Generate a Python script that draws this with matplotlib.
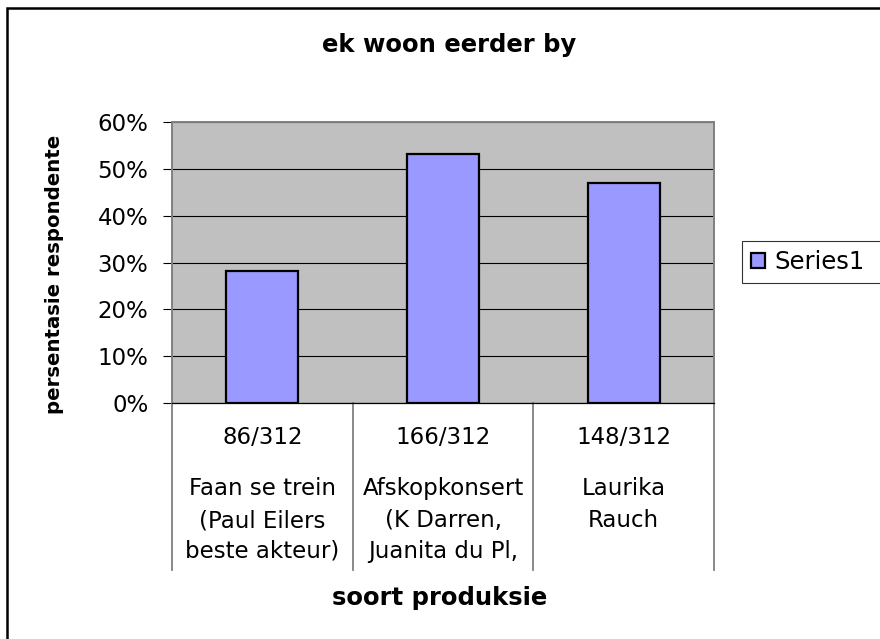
import matplotlib
matplotlib.use("Agg")
import matplotlib.pyplot as plt
import matplotlib.transforms as mtransforms
from matplotlib.patches import Rectangle
from matplotlib.lines import Line2D
import numpy as np

# ---- data ----
categories = ["Faan se trein\n(Paul Eilers\nbeste akteur)",
              "Afskopkonsert\n(K Darren,\nJuanita du Pl,",
              "Laurika\nRauch"]
counts = ["86/312", "166/312", "148/312"]
values = [0.282, 0.532, 0.469]
yticks = [0.0, 0.1, 0.2, 0.3, 0.4, 0.5, 0.6]
ytick_labels = ["0%", "10%", "20%", "30%", "40%", "50%", "60%"]
series_name = "Series1"
title = "ek woon eerder by"
xlabel = "soort produksie"
ylabel = "persentasie respondente"

plt.rcParams['font.family'] = ['DejaVu Sans']

W, H = 880, 639
fig = plt.figure(figsize=(W / 100, H / 100), dpi=100)
fig.patch.set_facecolor("white")

def fx(px):
    return px / W

def fy(py):
    return 1 - py / H

ax_l, ax_r, ax_t, ax_b = 172, 714, 122, 403
ax = fig.add_axes([fx(ax_l), fy(ax_b), fx(ax_r - ax_l), (ax_b - ax_t) / H])
ax.set_facecolor("#C0C0C0")

x = np.arange(len(categories))
bars = ax.bar(x, values, width=0.4, color="#9999FF", edgecolor="black",
              linewidth=1.6, label=series_name, zorder=3)

ax.set_xlim(-0.5, len(categories) - 0.5)
ax.set_ylim(0, 0.6)
ax.set_yticks(yticks)
ax.set_yticklabels(ytick_labels, fontsize=16.5)
ax.tick_params(axis="y", direction="out", length=6.5, width=0.8, color="black",
               pad=10.5)
ax.set_xticks([])
ax.yaxis.grid(True, color="black", linewidth=0.8)
ax.set_axisbelow(True)
for side in ["left", "top", "right"]:
    ax.spines[side].set_color("#808080")
    ax.spines[side].set_linewidth(1.4)
ax.spines["bottom"].set_color("black")
ax.spines["bottom"].set_linewidth(0.9)

# category separators below the axis (table-like x axis)
blend = mtransforms.blended_transform_factory(ax.transData, fig.transFigure)
sep_bottom = fy(570)
for b in np.arange(len(categories) + 1) - 0.5:
    ax.add_line(Line2D([b, b], [fy(ax_b), sep_bottom], transform=blend,
                       color="#808080", linewidth=1.3, clip_on=False))

# category labels: counts and names
name_baselines = [495, 527, 558]
for i, (cnt, name) in enumerate(zip(counts, categories)):
    ax.text(i, fy(444), cnt, transform=blend, ha="center", va="baseline",
            fontsize=16.5)
    for j, line in enumerate(name.split("\n")):
        ax.text(i, fy(name_baselines[j]), line, transform=blend, ha="center",
                va="baseline", fontsize=16.5)

# titles
fig.text(fx(449), fy(52), title, ha="center", va="baseline", fontsize=17.5,
         fontweight="bold")
fig.text(fx(440), fy(605), xlabel, ha="center", va="baseline", fontsize=17.5,
         fontweight="bold")
fig.text(fx(55), fy(274), ylabel, ha="center", va="center", rotation=90,
         fontsize=14.2, fontweight="bold")

# legend
leg = fig.legend(handles=[bars], labels=[series_name], loc="upper left",
                 bbox_to_anchor=(fx(742), fy(282), fx(880 - 742) + 0.002,
                                 41 / H),
                 mode="expand", fontsize=17.5,
                 frameon=True, fancybox=False, shadow=False,
                 edgecolor="black", handlelength=0.55, handleheight=0.55,
                 handletextpad=0.4, borderpad=0.38, borderaxespad=0)
leg.get_frame().set_linewidth(0.8)

# outer chart border (extends past right and bottom edges)
fig.patches.append(Rectangle((fx(7), -0.1), 1.2, fy(8) + 0.1,
                             transform=fig.transFigure, fill=False,
                             edgecolor="black", linewidth=1.8))

fig.savefig("out.png", dpi=100)
